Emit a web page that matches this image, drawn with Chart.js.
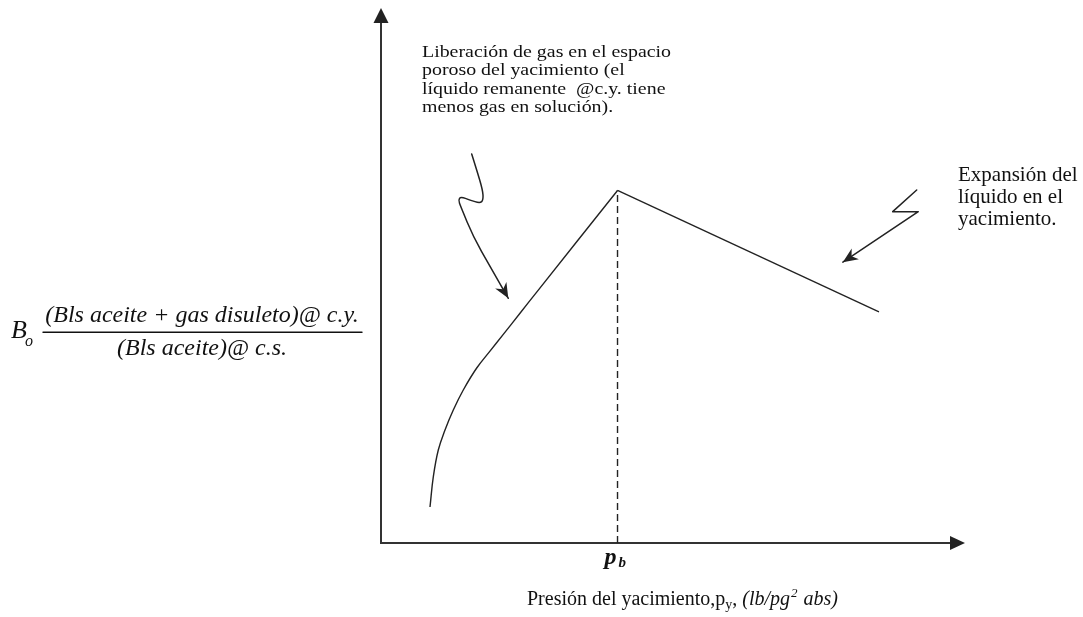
<!DOCTYPE html>
<html>
<head>
<meta charset="utf-8">
<script src="https://cdn.jsdelivr.net/npm/chart.js@4.4.1/dist/chart.umd.min.js"></script>
<style>
html,body{margin:0;padding:0;background:#fff;}
#wrap{width:1083px;height:617px;position:relative;}
</style>
</head>
<body>
<div id="wrap"><canvas id="c"></canvas></div>
<script>
// ---- data (arbitrary units, schematic) ----
const pressure = [8.39, 8.96, 9.81, 10.96, 12.38, 14.09, 16.39, 18.66, 20.94, 23.8, 26.66, 40.5, 85.27];
const bo       = [6.73, 12.39, 17.38, 21.12, 24.86, 28.6, 32.71, 35.86, 38.99, 42.95, 46.9, 65.89, 43.18];
const bubbleIndex = 11;               // index of the bubble-point pressure p_b
const leftNote  = ["Liberación de gas en el espacio", "poroso del yacimiento (el", "líquido remanente  @c.y. tiene", "menos gas en solución)."];
const rightNote = ["Expansión del", "líquido en el", "yacimiento."];
const yLabelNum = "(Bls aceite + gas disuleto)@ c.y.";
const yLabelDen = "(Bls aceite)@ c.s.";
const xTitleMain = "Presión del yacimiento,p";
const xTitleUnits = "(lb/pg";
// annotation arrows in data units
const leftArrowX  = [15.53, 16.39, 17.41, 17.52, 16.95, 15.24, 13.65, 13.24, 13.65, 15.80, 18.66, 21.80];
const leftArrowY  = [72.71, 69.72, 65.98, 64.11, 63.50, 64.11, 64.73, 64.11, 62.86, 57.25, 51.64, 45.74];
const rightArrowX = [91.73, 87.62, 92.0, 79.08];
const rightArrowY = [65.98, 61.93, 61.93, 52.49];
const leftNoteAt  = [7.02, 90.9];
const rightNoteAt = [98.8, 67.7];
const xTitleAtX = 25.0;
const yLabelAtY = 39.4;

const pb = pressure[bubbleIndex];
const riseData = pressure.slice(0, bubbleIndex + 1).map((x, i) => ({x, y: bo[i]}));
const fallData = pressure.slice(bubbleIndex).map((x, i) => ({x, y: bo[bubbleIndex + i]}));
const dashData = [{x: pb, y: 0}, {x: pb, y: bo[bubbleIndex]}];

const INK = '#222';
const SERIF = '"Liberation Serif", "DejaVu Serif", serif';

function arrowHead(ctx, x0, y0, x1, y1, len, half) {
  const a = Math.atan2(y1 - y0, x1 - x0);
  const c = Math.cos(a), s = Math.sin(a);
  const bx = x1 - len * c, by = y1 - len * s;
  ctx.beginPath();
  ctx.moveTo(x1, y1);
  ctx.lineTo(bx - half * s, by + half * c);
  ctx.lineTo(x1 - len * 0.7 * c, y1 - len * 0.7 * s);
  ctx.lineTo(bx + half * s, by - half * c);
  ctx.closePath();
  ctx.fill();
}

const decor = {
  id: 'decor',
  beforeDatasetsDraw(chart) {
    const ctx = chart.ctx, ca = chart.chartArea;
    ctx.save();
    ctx.strokeStyle = '#333'; ctx.fillStyle = '#222'; ctx.lineWidth = 2;
    ctx.beginPath();
    ctx.moveTo(ca.left, ca.top + 12);
    ctx.lineTo(ca.left, ca.bottom);
    ctx.lineTo(ca.right - 12, ca.bottom);
    ctx.stroke();
    // axis arrowheads
    ctx.beginPath();
    ctx.moveTo(ca.left, ca.top); ctx.lineTo(ca.left - 7.5, ca.top + 15); ctx.lineTo(ca.left + 7.5, ca.top + 15); ctx.closePath(); ctx.fill();
    ctx.beginPath();
    ctx.moveTo(ca.right, ca.bottom); ctx.lineTo(ca.right - 15, ca.bottom - 7); ctx.lineTo(ca.right - 15, ca.bottom + 7); ctx.closePath(); ctx.fill();
    ctx.restore();
  },
  afterDatasetsDraw(chart) {
    const ctx = chart.ctx, ca = chart.chartArea;
    const X = v => chart.scales.x.getPixelForValue(v);
    const Y = v => chart.scales.y.getPixelForValue(v);
    ctx.save();
    ctx.strokeStyle = INK; ctx.fillStyle = INK; ctx.lineWidth = 1.5;
    ctx.lineJoin = 'round'; ctx.lineCap = 'round';
    // left squiggle arrow (smooth)
    const lp = leftArrowX.map((x, i) => [X(x), Y(leftArrowY[i])]);
    ctx.beginPath();
    ctx.moveTo(lp[0][0], lp[0][1]);
    for (let i = 1; i < lp.length - 2; i++) {
      const mx = (lp[i][0] + lp[i + 1][0]) / 2, my = (lp[i][1] + lp[i + 1][1]) / 2;
      ctx.quadraticCurveTo(lp[i][0], lp[i][1], mx, my);
    }
    ctx.lineTo(lp[lp.length - 1][0], lp[lp.length - 1][1]);
    ctx.stroke();
    let n = lp.length;
    arrowHead(ctx, lp[n - 2][0], lp[n - 2][1], lp[n - 1][0], lp[n - 1][1], 15, 6.5);
    // right squiggle arrow
    const rp = rightArrowX.map((x, i) => [X(x), Y(rightArrowY[i])]);
    ctx.beginPath();
    ctx.moveTo(rp[0][0], rp[0][1]);
    for (let i = 1; i < rp.length; i++) ctx.lineTo(rp[i][0], rp[i][1]);
    ctx.stroke();
    n = rp.length;
    arrowHead(ctx, rp[n - 2][0], rp[n - 2][1], rp[n - 1][0], rp[n - 1][1], 15, 6.5);

    // notes
    ctx.fillStyle = '#111';
    ctx.textBaseline = 'alphabetic'; ctx.textAlign = 'left';
    ctx.font = '17px ' + SERIF;
    const lx = X(leftNoteAt[0]), ly = Y(leftNoteAt[1]);
    leftNote.forEach((t, i) => {
      ctx.save(); ctx.translate(lx, ly + i * 18.6); ctx.scale(1.17, 1); ctx.fillText(t, 0, 0); ctx.restore();
    });
    ctx.font = '21px ' + SERIF;
    const rx = X(rightNoteAt[0]), ry = Y(rightNoteAt[1]);
    rightNote.forEach((t, i) => ctx.fillText(t, rx, ry + i * 22));

    // p_b label
    const px = X(pb);
    ctx.font = 'italic bold 24px ' + SERIF;
    ctx.fillText('p', px - 13, ca.bottom + 21);
    ctx.font = 'italic bold 15px ' + SERIF;
    ctx.fillText('b', px + 1, ca.bottom + 24);

    // x title
    let tx = X(xTitleAtX);
    const tb = ca.bottom + 62;
    ctx.font = '20px ' + SERIF;
    ctx.fillText(xTitleMain, tx, tb); tx += ctx.measureText(xTitleMain).width;
    ctx.font = '14px ' + SERIF;
    ctx.fillText('y', tx, tb + 4); tx += ctx.measureText('y').width;
    ctx.font = '20px ' + SERIF;
    ctx.fillText(', ', tx, tb); tx += ctx.measureText(', ').width;
    ctx.font = 'italic 20px ' + SERIF;
    ctx.fillText(xTitleUnits, tx, tb); tx += ctx.measureText(xTitleUnits).width;
    ctx.font = 'italic 13px ' + SERIF;
    ctx.fillText('2', tx + 1, tb - 8); tx += ctx.measureText('2').width + 2;
    ctx.font = 'italic 20px ' + SERIF;
    ctx.fillText(' abs)', tx, tb);

    // y label (fraction)
    const fy = Y(yLabelAtY);
    const cx = ca.left - 179;
    ctx.font = 'italic 26px ' + SERIF;
    ctx.fillText('B', 11, fy + 6);
    ctx.font = 'italic 16px ' + SERIF;
    ctx.fillText('o', 25, fy + 14);
    ctx.textAlign = 'center';
    ctx.font = 'italic 24px ' + SERIF;
    ctx.fillText(yLabelNum, cx, fy - 10);
    ctx.fillText(yLabelDen, cx, fy + 23);
    ctx.lineWidth = 1.4; ctx.strokeStyle = '#111';
    ctx.beginPath(); ctx.moveTo(43, fy); ctx.lineTo(362, fy); ctx.stroke();
    ctx.restore();
  }
};

new Chart(document.getElementById('c'), {
  type: 'line',
  data: {
    datasets: [
      {data: riseData, borderColor: INK, borderWidth: 1.4, pointRadius: 0, fill: false, tension: 0.4},
      {data: fallData, borderColor: INK, borderWidth: 1.4, pointRadius: 0, fill: false, tension: 0},
      {data: dashData, borderColor: INK, borderWidth: 1.4, pointRadius: 0, fill: false, borderDash: [7, 4], tension: 0}
    ]
  },
  options: {
    responsive: true, maintainAspectRatio: false, animation: false,
    layout: {padding: {left: 381, right: 118, top: 8, bottom: 74}},
    plugins: {legend: {display: false}, tooltip: {enabled: false}},
    scales: {
      x: {type: 'linear', min: 0, max: 100, display: false},
      y: {type: 'linear', min: 0, max: 100, display: false}
    }
  },
  plugins: [decor]
});
</script>
</body>
</html>
